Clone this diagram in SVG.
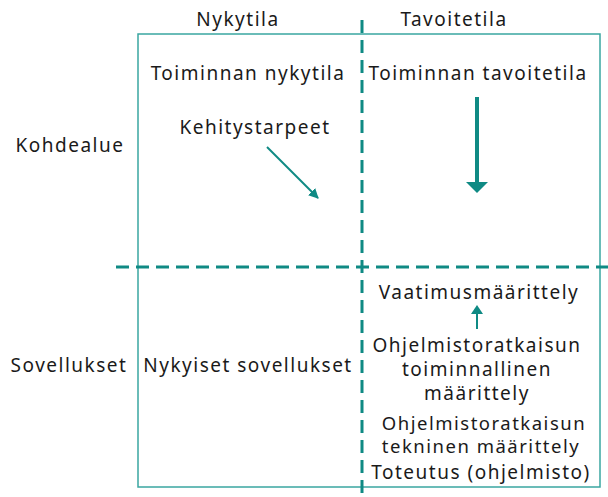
<svg xmlns="http://www.w3.org/2000/svg" width="608" height="497" viewBox="0 0 608 497">
  <style>
    text { font-family: "Noto Sans", "Open Sans", sans-serif; font-size: 19px; letter-spacing: 1.5px; fill: #1a1a1a; text-anchor: middle; }
    .tight { font-size: 18.5px; }
    .frame { fill: none; stroke: #3aa6a1; stroke-width: 1.5; }
    .divider { stroke: #0f8a84; stroke-width: 3; stroke-dasharray: 13 7; fill: none; }
    .conn { stroke: #0f8a84; fill: none; }
  </style>
  <defs>
    <marker id="headSmall" markerWidth="10" markerHeight="10" refX="9" refY="5" orient="auto" markerUnits="userSpaceOnUse" viewBox="0 0 10 10">
      <path d="M0,0 L10,5 L0,10 Z" fill="#0f8a84"/>
    </marker>
  </defs>

  <!-- outer frame -->
  <rect class="frame" x="138" y="34" width="462" height="453"/>

  <!-- quadrant dividers -->
  <line class="divider" x1="362" y1="20" x2="362" y2="497"/>
  <line class="divider" x1="116" y1="267" x2="608" y2="267"/>

  <!-- column and row headings -->
  <g id="col-nykytila"><text x="238" y="26">Nykytila</text></g>
  <g id="col-tavoitetila"><text x="454" y="26">Tavoitetila</text></g>
  <g id="row-kohdealue"><text x="70" y="152">Kohdealue</text></g>
  <g id="row-sovellukset"><text x="69" y="372">Sovellukset</text></g>

  <!-- quadrant contents -->
  <g id="toiminnan-nykytila"><text x="248" y="80">Toiminnan nykytila</text></g>
  <g id="toiminnan-tavoitetila"><text x="478" y="80">Toiminnan tavoitetila</text></g>
  <g id="kehitystarpeet"><text x="255" y="134">Kehitystarpeet</text></g>
  <g id="nykyiset-sovellukset"><text x="248" y="372">Nykyiset sovellukset</text></g>
  <g id="vaatimusmaarittely"><text x="479" y="299">Vaatimusmäärittely</text></g>
  <g id="toiminnallinen-maarittely">
    <text x="477" y="352">Ohjelmistoratkaisun</text>
    <text x="477" y="376">toiminnallinen</text>
    <text x="477" y="400">määrittely</text>
  </g>
  <g id="tekninen-maarittely">
    <text class="tight" x="484" y="430">Ohjelmistoratkaisun</text>
    <text class="tight" x="481" y="453">tekninen määrittely</text>
  </g>
  <g id="toteutus"><text x="481" y="479">Toteutus (ohjelmisto)</text></g>

  <!-- connectors -->
  <g id="connectors">
    <line class="conn" x1="267" y1="147" x2="318" y2="198" stroke-width="2" marker-end="url(#headSmall)"/>
    <line class="conn" x1="477" y1="97" x2="477" y2="184" stroke-width="4"/>
    <path d="M466,182 L488,182 L477,193 Z" fill="#0f8a84"/>
    <line class="conn" x1="477" y1="329" x2="477" y2="312" stroke-width="2"/>
    <path d="M471,314 L483,314 L477,305 Z" fill="#0f8a84"/>
  </g>
</svg>
